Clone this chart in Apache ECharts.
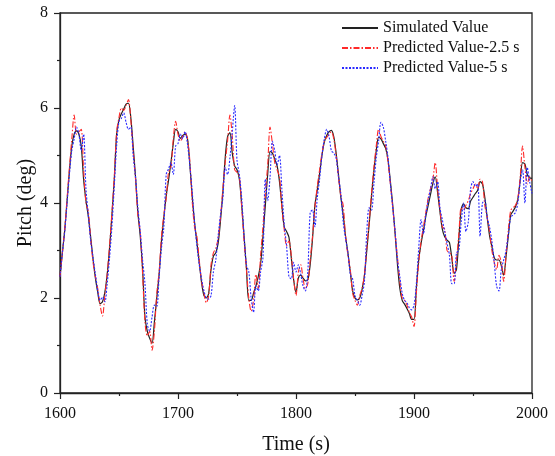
<!DOCTYPE html>
<html>
<head>
<meta charset="utf-8">
<script src="https://cdn.jsdelivr.net/npm/echarts@6/dist/echarts.min.js"></script>
<style>html,body{margin:0;padding:0;background:#fff}#c{width:555px;height:456px}</style>
</head>
<body>
<div id="c"></div>
<script>
// time axis (s), every 2 s
const startTime = 1600, stepTime = 2;
const xTicks = [1600, 1700, 1800, 1900, 2000];
const yTicks = [0, 2, 4, 6, 8];
const seriesNames = ['Simulated Value', 'Predicted Value-2.5 s', 'Predicted Value-5 s'];

const simulated = [
2.45,2.95,3.43,4.05,4.68,5.2,5.45,5.52,5.45,5.2,
4.5,4.05,3.72,3.28,2.82,2.42,2.12,1.88,1.92,2.12,
2.5,3.05,3.75,4.5,5.45,5.75,5.88,5.98,6.08,6.1,
5.8,5.2,4.55,3.8,3.3,2.6,1.6,1.3,1.15,1.05,
1.5,2.0,2.5,3.2,3.7,4.15,4.48,4.85,5.25,5.55,
5.5,5.36,5.42,5.45,5.36,4.82,4.15,3.6,3.18,2.75,
2.32,2.05,2.0,2.1,2.6,2.88,2.95,3.15,3.62,4.22,
4.95,5.4,5.48,5.05,4.78,4.7,4.5,3.95,3.3,2.62,
1.95,1.95,2.1,2.25,2.45,2.72,3.3,3.95,4.6,5.08,
5.05,4.92,4.78,4.45,3.95,3.5,3.4,3.28,2.85,2.38,
2.12,2.42,2.48,2.42,2.36,2.38,2.7,3.25,3.95,4.27,
4.62,5.0,5.28,5.42,5.5,5.53,5.4,5.05,4.6,4.12,
3.75,3.3,2.95,2.55,2.15,2.0,1.96,2.0,2.18,2.48,
3.0,3.55,4.15,4.68,5.1,5.38,5.35,5.25,5.15,4.9,
4.45,3.95,3.35,2.7,2.2,1.95,1.87,1.78,1.68,1.55,
1.55,2.2,2.8,3.15,3.42,3.72,3.95,4.18,4.42,4.55,
4.22,3.82,3.45,3.29,3.22,3.17,2.85,2.52,2.6,3.25,
3.87,3.98,3.9,3.88,4.04,4.12,4.2,4.27,4.45,4.4,
4.12,3.7,3.32,3.08,2.85,2.8,2.8,2.68,2.48,2.87,
3.32,3.75,3.83,3.92,4.08,4.48,4.85,4.82,4.6,4.53,
4.52
];

const predicted25 = [
2.45,2.95,3.45,4.1,4.75,5.35,5.85,5.45,5.5,5.55,
4.7,4.0,3.82,3.25,2.75,2.45,2.2,1.85,1.62,2.05,
2.5,3.1,3.8,4.55,5.5,5.8,6.0,5.95,6.05,6.18,
5.75,5.1,4.5,3.75,3.4,2.5,1.5,1.2,1.3,0.9,
1.3,2.1,2.55,3.3,3.75,4.1,4.65,4.75,5.35,5.72,
5.45,5.3,5.4,5.5,5.35,4.9,4.05,3.5,3.3,2.8,
2.35,2.1,1.9,2.05,2.7,2.95,3.05,3.25,3.7,4.3,
4.85,5.3,5.85,5.4,4.7,4.65,4.55,3.9,3.2,2.6,
2.0,1.72,1.95,2.5,2.2,2.9,3.5,4.2,4.8,5.6,
5.25,4.85,4.7,4.55,3.9,3.45,3.1,3.2,2.9,2.4,
2.05,2.55,2.7,2.4,2.2,2.3,2.8,3.3,3.9,4.35,
4.7,5.05,5.3,5.38,5.45,5.5,5.35,5.0,4.55,4.15,
3.95,3.3,2.9,2.6,2.1,1.95,1.85,2.05,2.2,2.5,
3.05,3.6,4.2,4.75,5.2,5.55,5.4,5.3,5.2,4.85,
4.4,3.9,3.35,2.85,2.35,2.0,1.95,1.85,1.7,1.6,
1.4,2.1,2.75,3.2,3.5,3.8,4.1,4.3,4.5,4.85,
4.3,3.85,3.5,3.45,3.0,2.95,2.9,2.35,2.8,3.35,
3.9,3.85,3.95,4.05,4.2,4.3,4.4,4.3,4.5,4.45,
3.95,3.7,3.4,3.0,2.75,2.6,2.9,2.75,2.35,2.9,
3.45,3.85,3.9,3.95,4.1,4.55,5.2,4.75,4.4,4.55,
4.45
];

const predicted5 = [
2.45,2.95,3.4,4.0,4.6,5.1,5.35,5.6,5.45,5.1,
5.45,4.3,3.75,3.2,2.85,2.5,2.15,1.95,2.02,1.92,
2.3,2.85,3.5,4.35,5.2,5.72,5.78,5.9,5.7,5.55,
5.6,5.0,4.55,3.9,3.4,2.8,2.3,1.45,1.3,1.6,
1.85,1.82,2.45,3.05,3.5,4.6,4.72,4.85,4.6,5.2,
5.25,5.45,5.35,5.5,5.25,4.8,4.25,3.6,3.1,2.7,
2.4,2.15,2.0,1.98,2.05,2.55,2.8,3.3,3.75,4.1,
4.75,4.6,4.95,5.5,6.05,4.9,4.6,4.1,3.3,2.7,
2.55,2.0,1.7,2.25,2.15,2.55,2.85,4.5,4.05,4.55,
5.3,5.1,4.8,5.0,4.3,3.55,3.1,2.45,2.4,2.75,
2.55,2.7,2.5,2.25,2.15,2.55,3.8,3.85,3.5,4.1,
4.5,5.0,5.35,5.55,5.4,5.1,5.05,4.95,4.55,4.2,
3.6,3.25,2.95,2.5,2.4,2.05,1.95,1.85,2.05,2.35,
3.4,3.9,3.85,4.4,4.95,5.3,5.7,5.6,5.3,4.95,
4.4,3.9,3.4,2.8,2.45,2.1,1.95,1.9,1.8,1.75,
1.85,2.3,3.05,3.65,3.35,3.75,4.05,4.3,4.55,4.3,
4.45,3.9,3.65,3.4,3.15,2.9,2.3,2.3,2.95,3.0,
3.6,4.0,3.4,3.6,4.3,4.45,4.35,4.4,3.3,4.0,
4.05,3.7,3.5,3.2,2.75,2.25,2.15,2.6,2.8,3.0,
3.35,3.7,3.75,3.8,4.0,4.45,4.7,4.0,4.75,4.45,
4.2
];

function pairs(vals) {
  return vals.map((v, i) => [startTime + i * stepTime, v]);
}

const font = 'Liberation Serif, Times New Roman, serif';
const chart = echarts.init(document.getElementById('c'));
chart.setOption({
  animation: false,
  backgroundColor: '#fff',
  grid: {
    left: 60, right: 23, top: 13, bottom: 63,
    containLabel: false, outerBoundsMode: 'none',
    show: true, borderColor: '#222', borderWidth: 1.3, backgroundColor: 'transparent'
  },
  legend: {
    orient: 'vertical', left: 341, top: 20, padding: 0, itemGap: 4,
    itemWidth: 36, itemHeight: 10,
    itemStyle: { opacity: 0 },
    textStyle: { fontFamily: font, fontSize: 16, color: '#111' },
    data: seriesNames
  },
  xAxis: {
    type: 'value', min: xTicks[0], max: xTicks[xTicks.length - 1], interval: 100,
    name: 'Time (s)', nameLocation: 'middle', nameGap: 42, nameMoveOverlap: false,
    nameTextStyle: { fontFamily: font, fontSize: 20, color: '#111' },
    axisLine: { lineStyle: { color: '#222', width: 1.3 } },
    axisTick: { length: 6, lineStyle: { color: '#222', width: 1.2 } },
    minorTick: { show: true, splitNumber: 2, length: 3, lineStyle: { color: '#222', width: 1.2 } },
    splitLine: { show: false },
    axisLabel: { fontFamily: font, fontSize: 16, color: '#111', margin: 13, formatter: v => String(v) }
  },
  yAxis: {
    type: 'value', min: yTicks[0], max: yTicks[yTicks.length - 1], interval: 2,
    name: 'Pitch (deg)', nameLocation: 'middle', nameGap: 24, nameMoveOverlap: false,
    nameTextStyle: { fontFamily: font, fontSize: 20, color: '#111' },
    axisLine: { show: true, lineStyle: { color: '#222', width: 1.3 } },
    axisTick: { show: true, length: 6, lineStyle: { color: '#222', width: 1.2 } },
    minorTick: { show: true, splitNumber: 2, length: 3, lineStyle: { color: '#222', width: 1.2 } },
    splitLine: { show: false },
    axisLabel: { fontFamily: font, fontSize: 16, color: '#111', margin: 12, formatter: v => String(v) }
  },
  series: [
    {
      name: seriesNames[0], type: 'line', data: pairs(simulated), symbol: 'none', smooth: 0.3,
      lineStyle: { color: '#222', width: 1.2, type: 'solid' }, itemStyle: { color: '#222' }
    },
    {
      name: seriesNames[1], type: 'line', data: pairs(predicted25), symbol: 'none', smooth: 0.3,
      lineStyle: { color: '#ff2a2a', width: 1.1, type: [6, 2, 1.5, 2] }, itemStyle: { color: '#ff2a2a' }
    },
    {
      name: seriesNames[2], type: 'line', data: pairs(predicted5), symbol: 'none', smooth: 0.3,
      lineStyle: { color: '#2a2aff', width: 1.1, type: [2, 1.5] }, itemStyle: { color: '#2a2aff' }
    }
  ]
});
</script>
</body>
</html>
